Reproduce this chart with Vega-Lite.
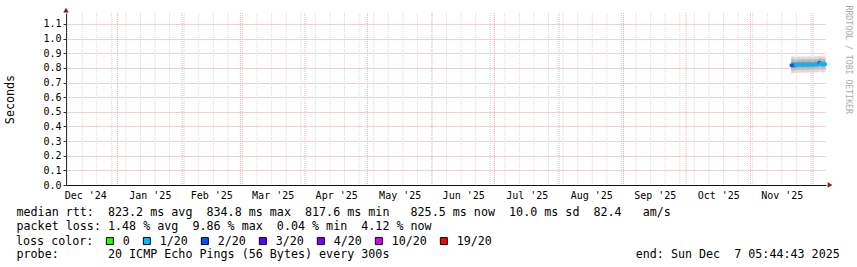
{
  "$schema": "https://vega.github.io/schema/vega-lite/v6.json",
  "width": 760,
  "height": 172,
  "autosize": {"type": "none"},
  "padding": {"left": 66, "top": 13, "right": 31, "bottom": 82},
  "background": "white",
  "config": {"view": {"stroke": null}, "font": "DejaVu Sans Mono"},
  "datasets": {
    "months": [
      {"t": "2025-01-01"}, {"t": "2025-02-01"}, {"t": "2025-03-01"}, {"t": "2025-04-01"},
      {"t": "2025-05-01"}, {"t": "2025-06-01"}, {"t": "2025-07-01"}, {"t": "2025-08-01"},
      {"t": "2025-09-01"}, {"t": "2025-10-01"}, {"t": "2025-11-01"}, {"t": "2025-12-01"}
    ],
    "weeks": [
      {"t": "2024-12-08"}, {"t": "2024-12-15"}, {"t": "2024-12-22"}, {"t": "2024-12-29"},
      {"t": "2025-01-05"}, {"t": "2025-01-12"}, {"t": "2025-01-19"}, {"t": "2025-01-26"},
      {"t": "2025-02-02"}, {"t": "2025-02-09"}, {"t": "2025-02-16"}, {"t": "2025-02-23"},
      {"t": "2025-03-02"}, {"t": "2025-03-09"}, {"t": "2025-03-16"}, {"t": "2025-03-23"}, {"t": "2025-03-30"},
      {"t": "2025-04-06"}, {"t": "2025-04-13"}, {"t": "2025-04-20"}, {"t": "2025-04-27"},
      {"t": "2025-05-04"}, {"t": "2025-05-11"}, {"t": "2025-05-18"}, {"t": "2025-05-25"},
      {"t": "2025-06-01"}, {"t": "2025-06-08"}, {"t": "2025-06-15"}, {"t": "2025-06-22"}, {"t": "2025-06-29"},
      {"t": "2025-07-06"}, {"t": "2025-07-13"}, {"t": "2025-07-20"}, {"t": "2025-07-27"},
      {"t": "2025-08-03"}, {"t": "2025-08-10"}, {"t": "2025-08-17"}, {"t": "2025-08-24"}, {"t": "2025-08-31"},
      {"t": "2025-09-07"}, {"t": "2025-09-14"}, {"t": "2025-09-21"}, {"t": "2025-09-28"},
      {"t": "2025-10-05"}, {"t": "2025-10-12"}, {"t": "2025-10-19"}, {"t": "2025-10-26"},
      {"t": "2025-11-02"}, {"t": "2025-11-09"}, {"t": "2025-11-16"}, {"t": "2025-11-23"}, {"t": "2025-11-30"}
    ],
    "ping": [
      {"t": "2025-11-20T12:00:00Z", "m": 0.8180, "loss": "2/20", "a1": 0.764, "b1": 0.878, "a2": 0.782, "b2": 0.860, "a3": 0.798, "b3": 0.842},
      {"t": "2025-11-21T00:00:00Z", "m": 0.8176, "loss": "2/20", "a1": 0.762, "b1": 0.880, "a2": 0.781, "b2": 0.862, "a3": 0.797, "b3": 0.843},
      {"t": "2025-11-21T12:00:00Z", "m": 0.8182, "loss": "2/20", "a1": 0.765, "b1": 0.877, "a2": 0.783, "b2": 0.859, "a3": 0.799, "b3": 0.841},
      {"t": "2025-11-22T00:00:00Z", "m": 0.8185, "loss": "2/20", "a1": 0.766, "b1": 0.876, "a2": 0.784, "b2": 0.858, "a3": 0.800, "b3": 0.840},
      {"t": "2025-11-22T12:00:00Z", "m": 0.8195, "loss": "1/20", "a1": 0.767, "b1": 0.875, "a2": 0.785, "b2": 0.857, "a3": 0.801, "b3": 0.840},
      {"t": "2025-11-23T00:00:00Z", "m": 0.8200, "loss": "1/20", "a1": 0.766, "b1": 0.876, "a2": 0.786, "b2": 0.858, "a3": 0.802, "b3": 0.841},
      {"t": "2025-11-23T12:00:00Z", "m": 0.8225, "loss": "1/20", "a1": 0.768, "b1": 0.878, "a2": 0.787, "b2": 0.860, "a3": 0.803, "b3": 0.843},
      {"t": "2025-11-24T00:00:00Z", "m": 0.8230, "loss": "1/20", "a1": 0.767, "b1": 0.879, "a2": 0.786, "b2": 0.861, "a3": 0.804, "b3": 0.844},
      {"t": "2025-11-24T12:00:00Z", "m": 0.8228, "loss": "1/20", "a1": 0.769, "b1": 0.877, "a2": 0.787, "b2": 0.859, "a3": 0.804, "b3": 0.842},
      {"t": "2025-11-25T00:00:00Z", "m": 0.8232, "loss": "1/20", "a1": 0.768, "b1": 0.876, "a2": 0.788, "b2": 0.858, "a3": 0.805, "b3": 0.842},
      {"t": "2025-11-25T12:00:00Z", "m": 0.8226, "loss": "1/20", "a1": 0.767, "b1": 0.878, "a2": 0.787, "b2": 0.860, "a3": 0.804, "b3": 0.843},
      {"t": "2025-11-26T00:00:00Z", "m": 0.8224, "loss": "1/20", "a1": 0.766, "b1": 0.879, "a2": 0.786, "b2": 0.861, "a3": 0.803, "b3": 0.844},
      {"t": "2025-11-26T12:00:00Z", "m": 0.8230, "loss": "1/20", "a1": 0.768, "b1": 0.877, "a2": 0.788, "b2": 0.859, "a3": 0.805, "b3": 0.843},
      {"t": "2025-11-27T00:00:00Z", "m": 0.8235, "loss": "1/20", "a1": 0.769, "b1": 0.876, "a2": 0.789, "b2": 0.858, "a3": 0.806, "b3": 0.842},
      {"t": "2025-11-27T12:00:00Z", "m": 0.8228, "loss": "1/20", "a1": 0.767, "b1": 0.878, "a2": 0.787, "b2": 0.860, "a3": 0.804, "b3": 0.843},
      {"t": "2025-11-28T00:00:00Z", "m": 0.8222, "loss": "1/20", "a1": 0.766, "b1": 0.877, "a2": 0.786, "b2": 0.859, "a3": 0.803, "b3": 0.842},
      {"t": "2025-11-28T12:00:00Z", "m": 0.8226, "loss": "1/20", "a1": 0.768, "b1": 0.878, "a2": 0.787, "b2": 0.860, "a3": 0.804, "b3": 0.843},
      {"t": "2025-11-29T00:00:00Z", "m": 0.8231, "loss": "1/20", "a1": 0.769, "b1": 0.879, "a2": 0.788, "b2": 0.861, "a3": 0.805, "b3": 0.844},
      {"t": "2025-11-29T12:00:00Z", "m": 0.8236, "loss": "1/20", "a1": 0.770, "b1": 0.878, "a2": 0.789, "b2": 0.860, "a3": 0.806, "b3": 0.843},
      {"t": "2025-11-30T00:00:00Z", "m": 0.8229, "loss": "1/20", "a1": 0.768, "b1": 0.877, "a2": 0.788, "b2": 0.859, "a3": 0.805, "b3": 0.842},
      {"t": "2025-11-30T12:00:00Z", "m": 0.8224, "loss": "1/20", "a1": 0.767, "b1": 0.876, "a2": 0.787, "b2": 0.858, "a3": 0.804, "b3": 0.841},
      {"t": "2025-12-01T00:00:00Z", "m": 0.8227, "loss": "1/20", "a1": 0.768, "b1": 0.878, "a2": 0.788, "b2": 0.860, "a3": 0.805, "b3": 0.843},
      {"t": "2025-12-01T12:00:00Z", "m": 0.8233, "loss": "1/20", "a1": 0.769, "b1": 0.879, "a2": 0.789, "b2": 0.861, "a3": 0.806, "b3": 0.844},
      {"t": "2025-12-02T00:00:00Z", "m": 0.8238, "loss": "1/20", "a1": 0.770, "b1": 0.880, "a2": 0.790, "b2": 0.862, "a3": 0.807, "b3": 0.845},
      {"t": "2025-12-02T12:00:00Z", "m": 0.8232, "loss": "1/20", "a1": 0.769, "b1": 0.878, "a2": 0.789, "b2": 0.860, "a3": 0.806, "b3": 0.843},
      {"t": "2025-12-03T00:00:00Z", "m": 0.8240, "loss": "1/20", "a1": 0.770, "b1": 0.879, "a2": 0.790, "b2": 0.861, "a3": 0.807, "b3": 0.845},
      {"t": "2025-12-03T12:00:00Z", "m": 0.8290, "loss": "1/20", "a1": 0.772, "b1": 0.882, "a2": 0.792, "b2": 0.865, "a3": 0.810, "b3": 0.850},
      {"t": "2025-12-04T00:00:00Z", "m": 0.8348, "loss": "2/20", "a1": 0.775, "b1": 0.884, "a2": 0.795, "b2": 0.868, "a3": 0.815, "b3": 0.855},
      {"t": "2025-12-04T12:00:00Z", "m": 0.8300, "loss": "1/20", "a1": 0.773, "b1": 0.882, "a2": 0.793, "b2": 0.866, "a3": 0.812, "b3": 0.851},
      {"t": "2025-12-05T00:00:00Z", "m": 0.8250, "loss": "1/20", "a1": 0.771, "b1": 0.880, "a2": 0.791, "b2": 0.863, "a3": 0.808, "b3": 0.846},
      {"t": "2025-12-05T12:00:00Z", "m": 0.8245, "loss": "1/20", "a1": 0.770, "b1": 0.879, "a2": 0.790, "b2": 0.862, "a3": 0.807, "b3": 0.845},
      {"t": "2025-12-06T00:00:00Z", "m": 0.8252, "loss": "1/20", "a1": 0.771, "b1": 0.880, "a2": 0.791, "b2": 0.863, "a3": 0.808, "b3": 0.846},
      {"t": "2025-12-06T12:00:00Z", "m": 0.8255, "loss": "1/20", "a1": 0.772, "b1": 0.880, "a2": 0.791, "b2": 0.863, "a3": 0.808, "b3": 0.846},
      {"t": "2025-12-07T00:00:00Z", "m": 0.8255, "loss": "1/20", "a1": 0.772, "b1": 0.880, "a2": 0.791, "b2": 0.863, "a3": 0.808, "b3": 0.846}
    ]
  },
  "resolve": {"axis": {"x": "independent", "y": "independent"}},
  "layer": [
    {
      "data": {"name": "weeks"},
      "mark": {"type": "rule", "stroke": "#d8d8d8", "strokeWidth": 1, "strokeDash": [1, 1]},
      "encoding": {
        "x": {"field": "t", "type": "temporal", "axis": null,
              "scale": {"type": "utc", "domain": [{"year": 2024, "month": 12, "date": 7, "hours": 5, "minutes": 44, "seconds": 43, "utc": true}, {"year": 2025, "month": 12, "date": 7, "hours": 5, "minutes": 44, "seconds": 43, "utc": true}]}}
      }
    },
    {
      "data": {"name": "months"},
      "mark": {"type": "rule", "stroke": "#f0b0b0", "strokeWidth": 1, "strokeDash": [1, 1]},
      "encoding": {
        "x": {"field": "t", "type": "temporal", "axis": null,
              "scale": {"type": "utc", "domain": [{"year": 2024, "month": 12, "date": 7, "hours": 5, "minutes": 44, "seconds": 43, "utc": true}, {"year": 2025, "month": 12, "date": 7, "hours": 5, "minutes": 44, "seconds": 43, "utc": true}]}}
      }
    },
    {
      "data": {"name": "ping"},
      "mark": {"type": "area", "color": "#dcdcdc", "interpolate": "step-after", "opacity": 1},
      "encoding": {
        "x": {"field": "t", "type": "temporal", "axis": null,
              "scale": {"type": "utc", "domain": [{"year": 2024, "month": 12, "date": 7, "hours": 5, "minutes": 44, "seconds": 43, "utc": true}, {"year": 2025, "month": 12, "date": 7, "hours": 5, "minutes": 44, "seconds": 43, "utc": true}]}},
        "y": {"field": "a1", "type": "quantitative",
              "scale": {"domain": [0, 1.175], "nice": false, "zero": false},
              "axis": {"orient": "left", "values": [0, 0.1, 0.2, 0.3, 0.4, 0.5, 0.6, 0.7, 0.8, 0.9, 1.0, 1.1], "format": ".1f",
                       "labelFont": "DejaVu Sans Mono", "labelFontSize": 10, "labelColor": "black", "labelPadding": 2,
                       "ticks": true, "tickSize": 3, "tickColor": "#333333",
                       "grid": true, "gridColor": "#e6a0a0", "gridDash": [1, 1], "gridWidth": 1,
                       "domain": true, "domainColor": "#333333",
                       "title": "Seconds", "titleFont": "DejaVu Sans Mono", "titleFontSize": 11.7, "titleFontWeight": "normal", "titleColor": "black", "titlePadding": 27}},
        "y2": {"field": "b1"}
      }
    },
    {
      "data": {"name": "ping"},
      "mark": {"type": "area", "color": "#bdbdbd", "interpolate": "step-after", "opacity": 1},
      "encoding": {
        "x": {"field": "t", "type": "temporal", "axis": null,
              "scale": {"type": "utc", "domain": [{"year": 2024, "month": 12, "date": 7, "hours": 5, "minutes": 44, "seconds": 43, "utc": true}, {"year": 2025, "month": 12, "date": 7, "hours": 5, "minutes": 44, "seconds": 43, "utc": true}]}},
        "y": {"field": "a2", "type": "quantitative",
              "scale": {"domain": [0, 1.175], "nice": false, "zero": false},
              "axis": {"orient": "right", "labels": false, "ticks": false, "domain": false, "grid": false,
                       "title": "RRDTOOL / TOBI OETIKER", "titleFont": "DejaVu Sans Mono", "titleFontSize": 8.2, "titleFontWeight": "normal",
                       "titleColor": "#aaaaaa", "titleAngle": 90, "titleX": 21, "titleY": -8, "titleAlign": "left", "titleBaseline": "middle"}},
        "y2": {"field": "b2"}
      }
    },
    {
      "data": {"name": "ping"},
      "mark": {"type": "area", "color": "#999999", "interpolate": "step-after", "opacity": 1},
      "encoding": {
        "x": {"field": "t", "type": "temporal", "axis": null,
              "scale": {"type": "utc", "domain": [{"year": 2024, "month": 12, "date": 7, "hours": 5, "minutes": 44, "seconds": 43, "utc": true}, {"year": 2025, "month": 12, "date": 7, "hours": 5, "minutes": 44, "seconds": 43, "utc": true}]}},
        "y": {"field": "a3", "type": "quantitative", "axis": null, "scale": {"domain": [0, 1.175], "nice": false, "zero": false}},
        "y2": {"field": "b3"}
      }
    },
    {
      "data": {"name": "ping"},
      "mark": {"type": "tick", "orient": "horizontal", "size": 3, "thickness": 3, "opacity": 1},
      "encoding": {
        "x": {"field": "t", "type": "temporal",
              "scale": {"type": "utc", "domain": [{"year": 2024, "month": 12, "date": 7, "hours": 5, "minutes": 44, "seconds": 43, "utc": true}, {"year": 2025, "month": 12, "date": 7, "hours": 5, "minutes": 44, "seconds": 43, "utc": true}]},
              "axis": {"orient": "bottom",
                       "labelExpr": "utcFormat(datum.value, \"%b '%y\")",
                       "values": [
                         {"year": 2024, "month": 12, "date": 16, "hours": 12, "utc": true},
                         {"year": 2025, "month": 1, "date": 16, "hours": 12, "utc": true},
                         {"year": 2025, "month": 2, "date": 15, "utc": true},
                         {"year": 2025, "month": 3, "date": 16, "hours": 12, "utc": true},
                         {"year": 2025, "month": 4, "date": 16, "utc": true},
                         {"year": 2025, "month": 5, "date": 16, "hours": 12, "utc": true},
                         {"year": 2025, "month": 6, "date": 16, "utc": true},
                         {"year": 2025, "month": 7, "date": 16, "hours": 12, "utc": true},
                         {"year": 2025, "month": 8, "date": 16, "hours": 12, "utc": true},
                         {"year": 2025, "month": 9, "date": 16, "utc": true},
                         {"year": 2025, "month": 10, "date": 16, "hours": 12, "utc": true},
                         {"year": 2025, "month": 11, "date": 16, "utc": true}
                       ],
                       "labelFont": "DejaVu Sans Mono", "labelFontSize": 10, "labelColor": "black", "labelPadding": 5,
                       "labelAlign": "center", "labelOverlap": false, "labelFlush": false,
                       "ticks": false, "grid": false, "domain": true, "domainColor": "#111111", "domainWidth": 1,
                       "title": [
                         "median rtt:\u00a0\u00a0823.2 ms avg\u00a0\u00a0834.8 ms max\u00a0\u00a0817.6 ms min\u00a0\u00a0\u00a0825.5 ms now\u00a0\u00a010.0 ms sd\u00a0\u00a082.4\u00a0\u00a0\u00a0am/s",
                         "packet loss: 1.48 % avg\u00a0\u00a09.86 % max\u00a0\u00a00.04 % min\u00a0\u00a04.12 % now",
                         "\u200b",
                         "probe:\u00a0\u00a0\u00a0\u00a0\u00a0\u00a0\u00a020 ICMP Echo Pings (56 Bytes) every 300s\u00a0\u00a0\u00a0\u00a0\u00a0\u00a0\u00a0\u00a0\u00a0\u00a0\u00a0\u00a0\u00a0\u00a0\u00a0\u00a0\u00a0\u00a0\u00a0\u00a0\u00a0\u00a0\u00a0\u00a0\u00a0\u00a0\u00a0\u00a0\u00a0\u00a0\u00a0\u00a0\u00a0\u00a0\u00a0end: Sun Dec\u00a0\u00a07 05:44:43 2025"
                       ],
                       "titleX": -50, "titleY": 30, "titleAlign": "left", "titleBaseline": "alphabetic", "titleAngle": 0,
                       "titleFont": "DejaVu Sans Mono", "titleFontSize": 11.7, "titleFontWeight": "normal", "titleColor": "black", "titleLineHeight": 14}},
        "y": {"field": "m", "type": "quantitative", "axis": null, "scale": {"domain": [0, 1.175], "nice": false, "zero": false}},
        "color": {"field": "loss", "type": "nominal",
                  "scale": {"domain": ["0", "1/20", "2/20", "3/20", "4/20", "10/20", "19/20"],
                            "range": ["#26ff00", "#00b8ff", "#0059ff", "#5e00ff", "#7e00ff", "#dd00ff", "#ff0000"]},
                  "legend": {"title": "loss color:", "orient": "none", "legendX": -50, "legendY": 222, "direction": "horizontal",
                             "titleOrient": "left", "titleFont": "DejaVu Sans Mono", "titleFontSize": 11.7, "titleFontWeight": "normal",
                             "titleColor": "black", "titlePadding": 10, "titleBaseline": "middle",
                             "labelFont": "DejaVu Sans Mono", "labelFontSize": 11.7, "labelColor": "black", "labelOffset": 7, "labelLimit": 0,
                             "symbolType": "square", "symbolSize": 49, "symbolStrokeColor": "black", "symbolStrokeWidth": 1, "symbolOpacity": 1,
                             "columnPadding": 11, "padding": 0, "symbolLimit": 0}}
      }
    },
    {
      "data": {"values": [{}]},
      "mark": {"type": "point", "shape": "triangle-up", "size": 30, "filled": true, "color": "#8b1a1a", "opacity": 1},
      "encoding": {
        "x": {"datum": {"year": 2024, "month": 12, "date": 7, "hours": 5, "minutes": 44, "seconds": 43, "utc": true}, "type": "temporal", "axis": null,
              "scale": {"type": "utc", "domain": [{"year": 2024, "month": 12, "date": 7, "hours": 5, "minutes": 44, "seconds": 43, "utc": true}, {"year": 2025, "month": 12, "date": 7, "hours": 5, "minutes": 44, "seconds": 43, "utc": true}]}},
        "y": {"datum": 1.195, "type": "quantitative", "axis": null, "scale": {"domain": [0, 1.175], "nice": false, "zero": false}}
      }
    },
    {
      "data": {"values": [{}]},
      "mark": {"type": "point", "shape": "triangle-right", "size": 30, "filled": true, "color": "#8b1a1a", "opacity": 1},
      "encoding": {
        "x": {"datum": {"year": 2025, "month": 12, "date": 9, "hours": 4, "utc": true}, "type": "temporal", "axis": null,
              "scale": {"type": "utc", "domain": [{"year": 2024, "month": 12, "date": 7, "hours": 5, "minutes": 44, "seconds": 43, "utc": true}, {"year": 2025, "month": 12, "date": 7, "hours": 5, "minutes": 44, "seconds": 43, "utc": true}]}},
        "y": {"datum": 0, "type": "quantitative", "axis": null, "scale": {"domain": [0, 1.175], "nice": false, "zero": false}}
      }
    }
  ]
}
